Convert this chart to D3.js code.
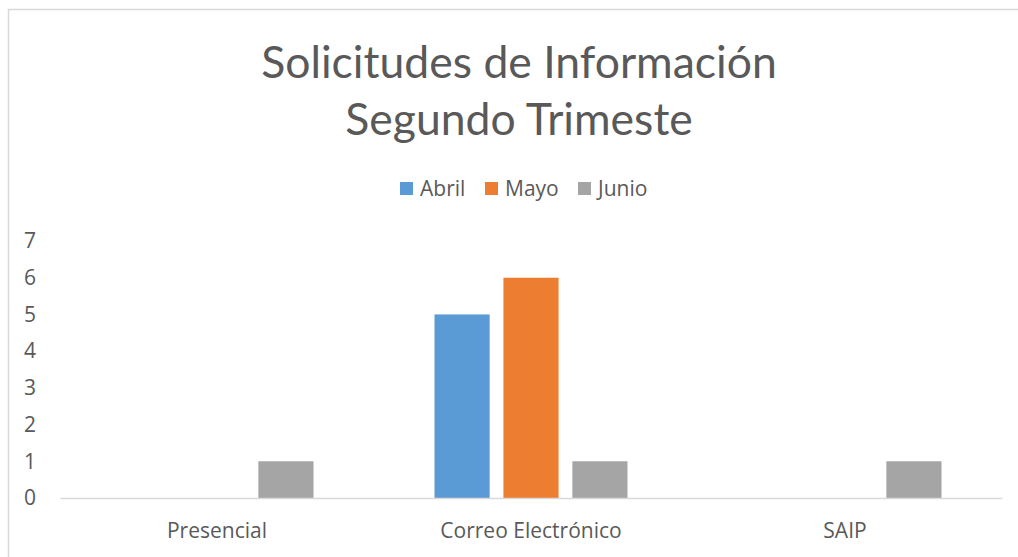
<!DOCTYPE html>
<html>
<head>
<meta charset="utf-8">
<script src="https://cdn.jsdelivr.net/npm/d3@7"></script>
<style>
  body { margin: 0; background: #fff; }
  text { font-family: "Open Sans", Lato, sans-serif; fill: #595959; }
</style>
</head>
<body>
<svg id="chart"></svg>
<script>
// chart data
const categories = ["Presencial", "Correo Electrónico", "SAIP"];
const seriesNames = ["Abril", "Mayo", "Junio"];
const abril = [0, 5, 0];
const mayo = [0, 6, 0];
const junio = [1, 1, 1];
const yTicks = [0, 1, 2, 3, 4, 5, 6, 7];
const titleLines = ["Solicitudes de Información", "Segundo Trimeste"];
const colors = ["#5b9bd5", "#ed7d31", "#a5a5a5"];

const config = {
  width: 1018,
  height: 557,
  margin: { top: 241, right: 16, bottom: 57, left: 60 }
};

const svg = d3.select("#chart")
  .attr("width", config.width)
  .attr("height", config.height);

// outer chart border (only top and left visible in the shot)
svg.append("rect")
  .attr("x", 8.5)
  .attr("y", 9.5)
  .attr("width", 1030)
  .attr("height", 570)
  .attr("fill", "none")
  .attr("stroke", "#d9d9d9")
  .attr("stroke-width", 1.5);

const width = config.width - config.margin.left - config.margin.right;
const height = config.height - config.margin.top - config.margin.bottom - 2;

const chart = svg.append("g")
  .attr("transform", `translate(${config.margin.left},${config.margin.top})`);

// scales
const x0 = d3.scaleBand().domain(categories).range([0, width]).padding(0);
const groupW = 193;
const x1 = d3.scaleBand()
  .domain(seriesNames)
  .range([(x0.bandwidth() - groupW) / 2, (x0.bandwidth() + groupW) / 2])
  .paddingInner(0.2);
const y = d3.scaleLinear().domain([0, 7]).range([height, 0]);

const data = categories.map((c, i) => ({
  category: c,
  values: [abril[i], mayo[i], junio[i]].map((v, j) => ({ key: seriesNames[j], value: v }))
}));

// bars
chart.selectAll(".group")
  .data(data)
  .join("g")
  .attr("class", "group")
  .attr("transform", d => `translate(${x0(d.category)},0)`)
  .selectAll("rect")
  .data(d => d.values.filter(v => v.value > 0))
  .join("rect")
  .attr("x", d => x1(d.key))
  .attr("y", d => y(d.value))
  .attr("width", x1.bandwidth())
  .attr("height", d => y(0) - y(d.value))
  .attr("fill", d => colors[seriesNames.indexOf(d.key)]);

// y axis (labels only)
const yAxis = d3.axisLeft(y).tickValues(yTicks).tickFormat(d3.format("d")).tickSize(0).tickPadding(24);
chart.append("g")
  .attr("class", "y-axis")
  .call(yAxis)
  .call(g => g.select(".domain").remove())
  .call(g => g.selectAll("text")
    .style("font-size", "21px")
    .style("font-family", "'Open Sans', sans-serif")
    .attr("fill", "#595959"));

// x axis
const xAxis = d3.axisBottom(x0).tickSize(0).tickPadding(25);
chart.append("g")
  .attr("class", "x-axis")
  .attr("transform", `translate(0,${height})`)
  .call(xAxis)
  .call(g => g.select(".domain")
    .attr("stroke", "#d9d9d9")
    .attr("stroke-width", 1.5))
  .call(g => g.selectAll("text")
    .style("font-size", "21px")
    .style("font-family", "'Open Sans', sans-serif")
    .attr("fill", "#595959"));

// title
svg.append("text")
  .attr("x", 519)
  .attr("text-anchor", "middle")
  .style("font-family", "Lato, sans-serif")
  .style("font-size", "44.5px")
  .selectAll("tspan")
  .data(titleLines)
  .join("tspan")
  .attr("x", 519)
  .attr("y", (d, i) => 78 + i * 57)
  .text(d => d);

// legend
const legendX = [400, 485, 578];
const legend = svg.append("g").attr("class", "legend");
seriesNames.forEach((s, i) => {
  legend.append("rect")
    .attr("x", legendX[i])
    .attr("y", 182)
    .attr("width", 13)
    .attr("height", 13)
    .attr("fill", colors[i]);
  legend.append("text")
    .attr("x", legendX[i] + 20)
    .attr("y", 195.5)
    .style("font-size", "21px")
    .text(s);
});
</script>
</body>
</html>
